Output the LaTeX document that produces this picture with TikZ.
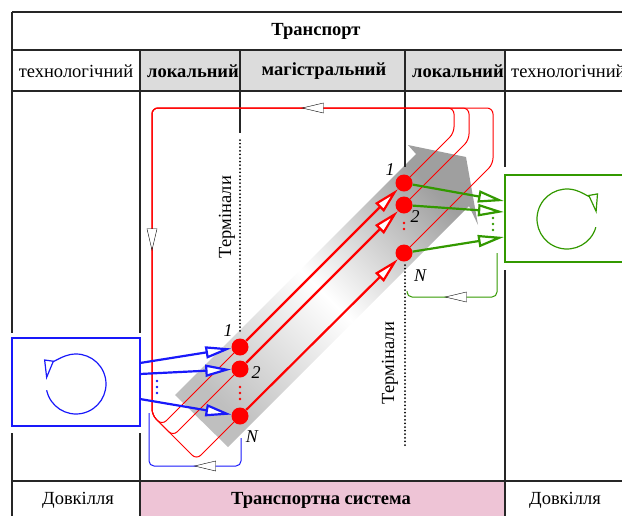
\documentclass[tikz,border=0pt]{standalone}
\usepackage{fontspec}
\setmainfont{Liberation Serif}
\usetikzlibrary{arrows.meta,decorations.markings}

\definecolor{hdgray}{RGB}{220,220,220}
\definecolor{syspink}{RGB}{238,196,214}
\definecolor{grn}{RGB}{51,153,0}
\definecolor{blu}{RGB}{25,25,250}

\tikzset{
  grid/.style={line width=1.2pt, draw=black!85},
  dot/.style={circle, fill=red, inner sep=0pt, minimum size=17pt},
  num/.style={font=\fontsize{18}{18}\selectfont\itshape, inner sep=0pt},
  lbl/.style={font=\fontsize{18.5}{18.5}\selectfont, inner sep=0pt},
  hd/.style={font=\fontsize{18.5}{18.5}\selectfont\bfseries, inner sep=0pt},
  bigtip/.style={-{Triangle[open, fill=white, length=26pt, width=12pt]}},
  rthin/.style={red, line width=1pt, rounded corners=6pt},
  rthick/.style={red, line width=2.2pt, bigtip},
  bthick/.style={blu, line width=2.2pt, bigtip},
  gthick/.style={grn, line width=2.2pt, bigtip},
  flow/.style={line width=1pt, decorate, decoration={markings,
    mark=at position #1 with {\arrow{Triangle[open, fill=white, length=24pt, width=11pt]}}}},
  term/.style={line width=2pt, dash pattern=on 0pt off 3.6pt, line cap=round},
  pts/.style={line width=2.6pt, dash pattern=on 0pt off 6pt, line cap=round},
  cyc/.style={line width=1.2pt, -{Triangle[open, fill=white, length=20pt, width=10pt]}},
}

\begin{document}
\begin{tikzpicture}[x=1pt,y=-1pt]
\useasboundingbox (0,0) rectangle (622,515);
\clip (0,0) rectangle (622,515);

% table
\fill[hdgray] (140,50) rectangle (505,91);
\fill[syspink] (140,481) rectangle (505,520);

% grey flow
\shade[left color=gray!50, right color=gray!75, middle color=white, shading angle=135]
  (175,395) -- (416,154) -- (408,145) -- (466,157) -- (478,225) -- (469,206) -- (228,447) -- cycle;

\draw[grid] (12,12) -- (630,12);
\draw[grid] (12,50) -- (630,50);
\draw[grid] (12,91) -- (630,91);
\draw[grid] (12,481) -- (630,481);
\draw[grid] (12,12) -- (12,333) (12,433) -- (12,520);
\draw[grid] (140,50) -- (140,333) (140,433) -- (140,520);
\draw[grid] (505,50) -- (505,167) (505,270) -- (505,520);
\draw[grid] (240,50) -- (240,133);
\draw[grid] (405,50) -- (405,167);

\node[hd] (tr) at (316,31) {Транспорт};
\node[lbl] (th1) at (76,71) {технологічний};
\node[hd] (lo1) at (193,71) {локальний};
\node[hd] (mg) at (324,71) {магістральний};
\node[hd] (lo2) at (458,71) {локальний};
\node[lbl, anchor=west] (th2) at (511,71) {технологічний};
\node[lbl] (dv1) at (78,500) {Довкілля};
\node[hd] (ts) at (321,500) {Транспортна система};
\node[lbl] (dv2) at (565,500) {Довкілля};

% terminals
\draw[term] (240,140) -- (240,333);
\draw[term] (405,265) -- (405,448);
\node[lbl, rotate=90] (tm1) at (227,217) {Термінали};
\node[lbl, rotate=90] (tm2) at (390,363) {Термінали};

% red loops
\node[dot] (l1) at (240,347) {};
\node[dot] (l2) at (240,369) {};
\node[dot] (ln) at (240,416) {};
\node[dot] (r1) at (404,183) {};
\node[dot] (r2) at (404,205) {};
\node[dot] (rn) at (404,253) {};

\coordinate (ta) at (152,108);
\coordinate (ba) at (152,415);
\coordinate (c1) at (162,425);
\coordinate (c2) at (173,436);
\coordinate (cn) at (196.5,459.5);
\coordinate (u1) at (454,133);
\coordinate (v1) at (454,108);
\coordinate (u2) at (469,140);
\coordinate (v2) at (469,108);
\coordinate (un) at (493,164);
\coordinate (vn) at (493,108);

\draw[rthin] (r1) -- (u1) -- (v1) -- (ta) -- (ba) -- (c1) -- (l1);
\draw[rthin] (r2) -- (u2) -- (v2) -- (ta) -- (ba) -- (c2) -- (l2);
\draw[rthin] (rn) -- (un) -- (vn) -- (ta) -- (ba) -- (cn) -- (ln);
\path[red, flow=0.51] (v1) -- (ta);
\path[red, flow=0.47] (ta) -- (ba);

\draw[rthick] (l1) -- (r1);
\draw[rthick] (l2) -- (r2);
\draw[rthick] (ln) -- (rn);
\draw[pts, red] (240,387) -- (240,399);
\draw[pts, red] (404,223) -- (404,235);

\node[num] (n1l) at (228,331) {1};
\node[num] (n2l) at (256,373) {2};
\node[num] (nnl) at (252,437) {N};
\node[num] (n1r) at (390,170) {1};
\node[num] (n2r) at (415,217) {2};
\node[num] (nnr) at (420,276) {N};

% environment, left
\node[draw=blu, line width=1.6pt, minimum width=128pt, minimum height=88pt, inner sep=0pt] (envl) at (76,382) {};
\draw[blu, cyc] (76,384) ++(168:30) arc (168:-172:30);
\coordinate (b1) at (140,363);
\coordinate (b2) at (140,374);
\coordinate (b3) at (140,399);
\draw[bthick] (b1) -- (l1);
\draw[bthick] (b2) -- (l2);
\draw[bthick] (b3) -- (ln);
\draw[pts, blu] (157,381) -- (157,394);
\coordinate (bq1) at (241,438);
\coordinate (bq2) at (241,466);
\coordinate (bq3) at (149,466);
\coordinate (bq4) at (149,413);
\draw[blu, line width=1pt, rounded corners=5pt] (bq1) -- (bq2) -- (bq3) -- (bq4);
\path[blu, flow=0.53] (bq2) -- (bq3);

% environment, right
\node[draw=grn, line width=1.6pt, minimum width=140pt, minimum height=87pt, inner sep=0pt] (envr) at (575,218.5) {};
\draw[grn, cyc] (567,219) ++(16:30) arc (16:350:30);
\coordinate (g1) at (504,201);
\coordinate (g2) at (504,212);
\coordinate (g3) at (504,237);
\draw[gthick] (r1) -- (g1);
\draw[gthick] (r2) -- (g2);
\draw[gthick] (rn) -- (g3);
\draw[pts, grn] (493,218) -- (493,231);
\coordinate (gq1) at (497,253);
\coordinate (gq2) at (497,297);
\coordinate (gq3) at (407,297);
\coordinate (gq4) at (407,291);
\draw[grn, line width=1pt, rounded corners=5pt] (gq1) -- (gq2) -- (gq3) -- (gq4);
\path[grn, flow=0.6] (gq2) -- (gq3);
\end{tikzpicture}
\end{document}
